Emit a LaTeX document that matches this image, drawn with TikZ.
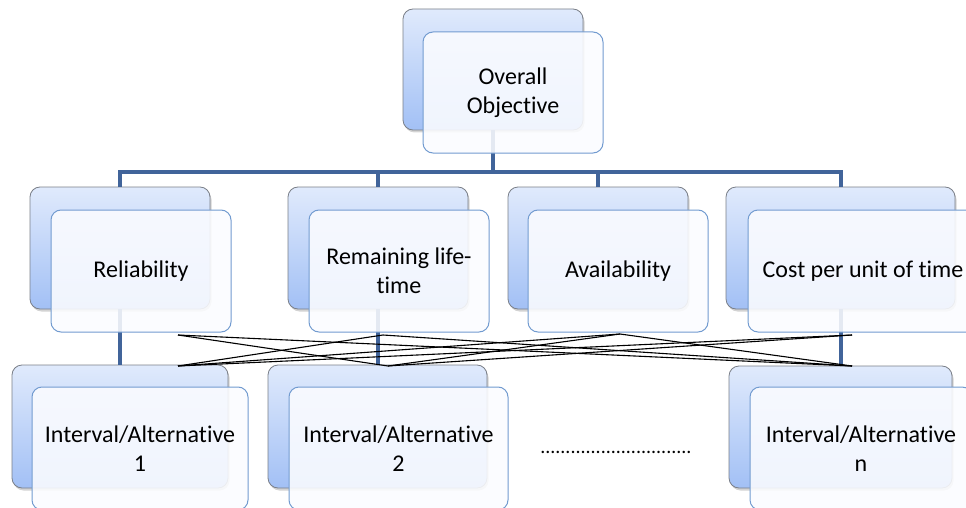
\documentclass[tikz,border=0pt]{standalone}
\usepackage{fontspec}
\setmainfont{Carlito}[Ligatures={NoCommon,NoContextual}]
\usetikzlibrary{shadows}
\definecolor{conncol}{HTML}{41649A}
\definecolor{backtop}{HTML}{E0EAFC}
\definecolor{backbot}{HTML}{A2C0F5}
\definecolor{backline}{HTML}{7A7F88}
\definecolor{frontline}{HTML}{729BD0}
\definecolor{frontfill}{HTML}{FBFCFF}
\begin{document}
\begin{tikzpicture}[x=1pt,y=-1pt,
  backbox/.style={rounded corners=10pt, draw=backline, line width=0.8pt,
    top color=backtop, bottom color=backbot, inner sep=0pt,
    drop shadow={shadow xshift=1.5pt, shadow yshift=-2.5pt, opacity=0.35}},
  frontbox/.style={rounded corners=10pt, draw=frontline, line width=1pt,
    fill=frontfill, fill opacity=0.88, text opacity=1, inner sep=0pt,
    align=center, font=\fontsize{24}{29}\selectfont, text=black},
  conn/.style={draw=conncol, line width=4pt},
  cross/.style={draw=black, line width=1.1pt}]
\useasboundingbox (0,0) rectangle (966,508);
\clip (0,0) rectangle (966,508);
% back boxes
\node[backbox, minimum width=180pt, minimum height=121pt] (objb) at (493,69.5) {};
\node[backbox, minimum width=180pt, minimum height=122pt] (relb) at (120,248) {};
\node[backbox, minimum width=180pt, minimum height=122pt] (remb) at (378,248) {};
\node[backbox, minimum width=180pt, minimum height=122pt] (avab) at (598,248) {};
\node[backbox, minimum width=229pt, minimum height=122pt] (costb) at (840.5,248) {};
\node[backbox, minimum width=216pt, minimum height=123pt] (alt1b) at (120,426.5) {};
\node[backbox, minimum width=219pt, minimum height=123pt] (alt2b) at (377.5,426.5) {};
\node[backbox, minimum width=223pt, minimum height=122pt] (altnb) at (840.5,427) {};
% tree connectors
\draw[conn] (objb.south) -- ++(0,42) -| (relb.north);
\draw[conn] (objb.south) -- ++(0,42) -| (remb.north);
\draw[conn] (objb.south) -- ++(0,42) -| (avab.north);
\draw[conn] (objb.south) -- ++(0,42) -| (costb.north);
\draw[conn] (relb.south) -- (alt1b.north);
\draw[conn] (remb.south) -- (alt2b.north -| remb.south);
\draw[conn] (costb.south) -- (altnb.north);
% front boxes
\node[frontbox, minimum width=180pt, minimum height=121pt] (obj) at (513,92.5) {Overall\\Objective};
\node[frontbox, minimum width=180pt, minimum height=122pt] (rel) at (141,271) {Reliability};
\node[frontbox, minimum width=180pt, minimum height=122pt] (rem) at (399,271) {Remaining life-\\time};
\node[frontbox, minimum width=180pt, minimum height=122pt] (ava) at (618,271) {Availability};
\node[frontbox, minimum width=230pt, minimum height=122pt] (cost) at (863,271) {Cost per unit of time};
\node[frontbox, minimum width=216pt, minimum height=123pt] (alt1) at (140,448.5) {Interval/Alternative\\1};
\node[frontbox, minimum width=219pt, minimum height=123pt] (alt2) at (398.5,448.5) {Interval/Alternative\\2};
\node[frontbox, minimum width=222pt, minimum height=123pt] (altn) at (861,448.5) {Interval/Alternative\\n};
% dots
\node[inner sep=0pt, font=\fontsize{20}{24}\selectfont] (dots) at (616,452) {..............................};
% criteria-alternative links
\coordinate (ta) at (178,335);
\coordinate (tb) at (383,335);
\coordinate (tc) at (620,334);
\coordinate (td) at (852,335);
\coordinate (be) at (178,366);
\coordinate (bf) at (388,366);
\coordinate (bg) at (852,366);
\draw[cross] (ta) -- (bf);
\draw[cross] (ta) -- (bg);
\draw[cross] (tb) -- (be);
\draw[cross] (tb) -- (bg);
\draw[cross] (tc) -- (be);
\draw[cross] (tc) -- (bf);
\draw[cross] (tc) -- (bg);
\draw[cross] (td) -- (be);
\draw[cross] (td) -- (bf);
\end{tikzpicture}
\end{document}
